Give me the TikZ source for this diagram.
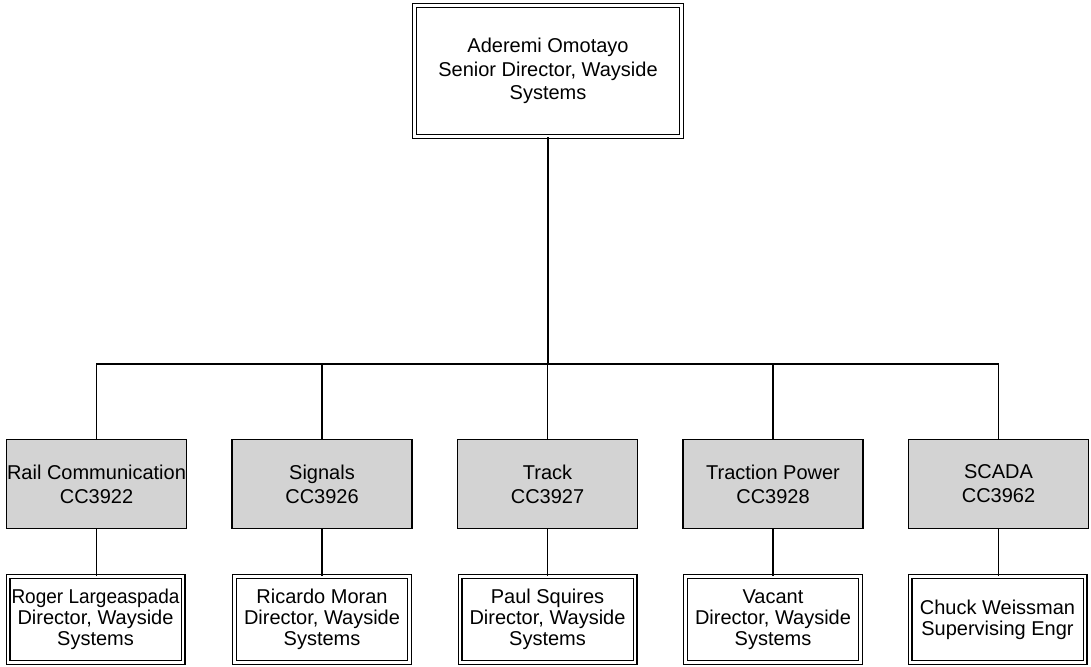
\documentclass[tikz,border=0pt]{standalone}
\usepackage{fontspec}
\setmainfont{Liberation Sans}
\definecolor{boxgrey}{RGB}{211,211,211}
\begin{document}
\begin{tikzpicture}[x=1pt,y=-1pt,
  txt/.style={font=\fontsize{20}{23.5}\selectfont, align=center, inner sep=0pt},
  headbox/.style={txt, draw, double, double distance=2.8pt, line width=1.1pt, minimum width=267pt, minimum height=131pt},
  unitbox/.style={txt, draw, fill=boxgrey, line width=1.3pt, minimum width=179.8pt, minimum height=88.8pt, font=\fontsize{20}{24}\selectfont},
  personbox/.style={txt, draw, double, double distance=2.8pt, line width=1.1pt, minimum width=175pt, minimum height=86pt, font=\fontsize{20}{21}\selectfont},
  link/.style={line width=1.3pt}]
\useasboundingbox (0,0) rectangle (1091,666);
\fill[white] (0,0) rectangle (1091,666);

\node[headbox] (top) at (548,71) {Aderemi Omotayo\\Senior Director, Wayside\\Systems};

\node[unitbox] (g1) at (96.5,484) {Rail Communication\\CC3922};
\node[unitbox] (g2) at (322,484) {Signals\\CC3926};
\node[unitbox] (g3) at (547.5,484) {Track\\CC3927};
\node[unitbox] (g4) at (773,484) {Traction Power\\CC3928};
\node[unitbox] (g5) at (998.5,484) {SCADA\\CC3962};

\node[personbox] (p1) at (95.5,619.5) {\scalebox{0.95}[1]{Roger Largeaspada}\\Director, Wayside\\Systems};
\node[personbox] (p2) at (322,619.5) {Ricardo Moran\\Director, Wayside\\Systems};
\node[personbox] (p3) at (547.5,619.5) {Paul Squires\\Director, Wayside\\Systems};
\node[personbox] (p4) at (773,619.5) {Vacant\\Director, Wayside\\Systems};
\node[personbox] (p5) at (997.5,619.5) {Chuck Weissman\\Supervising Engr};

\coordinate (bus) at (548,364);
\draw[link] (top.south) -- (bus);
\foreach \i in {1,...,5} {
  \draw[link] (g\i.north) |- (bus);
  \draw[link] (g\i.south) -- (g\i.south |- p\i.north);
}
\end{tikzpicture}
\end{document}
